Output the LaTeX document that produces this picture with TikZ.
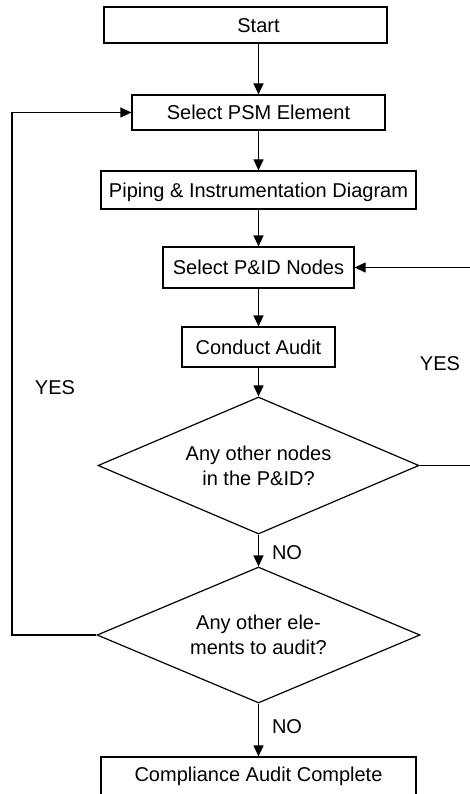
\documentclass[tikz,border=0pt]{standalone}
\usepackage{fontspec}
\setmainfont{Liberation Sans}
\usetikzlibrary{shapes.geometric,arrows.meta}
\begin{document}
\begin{tikzpicture}[x=1pt,y=-1pt,
  every node/.style={font=\fontsize{20}{25}\selectfont},
  box/.style={draw, line width=1.2pt, rectangle, inner sep=0pt,
    text height=14.3pt, text depth=0pt},
  decision/.style={draw, line width=1.2pt, diamond, aspect=2.34,
    inner sep=0pt, align=center},
  lbl/.style={inner sep=0pt, text height=14.3pt, text depth=0pt},
  flow/.style={line width=1.2pt, -{Triangle[length=11pt,width=10pt]}}]

\useasboundingbox (0,0) rectangle (470,794);
\clip (0,0) rectangle (470,794);

% process boxes
\node[box, minimum width=283pt, minimum height=36pt] (start) at (245.5,25) {};
\node[lbl] (starttext) at (258.5,25) {Start};
\node[box, minimum width=253pt, minimum height=35pt] (psm) at (258.5,112.5) {Select PSM Element};
\node[box, minimum width=315pt, minimum height=38pt] (piping) at (258.5,190) {Piping \& Instrumentation Diagram};
\node[box, minimum width=191pt, minimum height=41pt] (pid) at (258.5,267.5) {Select P\&ID Nodes};
\node[box, minimum width=153pt, minimum height=40pt] (audit) at (258.5,347) {Conduct Audit};

% decisions
\node[decision, minimum width=321pt, minimum height=137pt] (d1) at (258.5,465.5)
  {Any other nodes\\in the P\&ID?};
\node[decision, minimum width=323pt, minimum height=136pt] (d2) at (258.5,635)
  {Any other ele-\\ments to audit?};

% end box (runs past the lower edge)
\node[box, minimum width=315pt, minimum height=46pt] (done) at (258.5,780) {};
\node[lbl] (donetext) at (258.5,774) {Compliance Audit Complete};

% loop corners
\coordinate (lft) at (12,635);
\coordinate (rgt) at (478,465.5);

% connectors
\draw[flow] (start.south -| psm.north) -- (psm.north);
\draw[flow] (psm) -- (piping);
\draw[flow] (piping) -- (pid);
\draw[flow] (pid) -- (audit);
\draw[flow] (audit) -- (d1.north);
\draw[flow] (d1.south) -- (d2.north);
\draw[flow] (d2.south) -- (done.north);
\draw[flow] (d2.west) -- (lft) |- (psm.west);
\draw[flow] (d1.east) -- (rgt) |- (pid.east);

% branch labels
\node[lbl] (yesr) at (440,363) {YES};
\node[lbl] (yesl) at (55,387) {YES};
\node[lbl] (no1) at (287,552) {NO};
\node[lbl] (no2) at (287,726) {NO};
\end{tikzpicture}
\end{document}
